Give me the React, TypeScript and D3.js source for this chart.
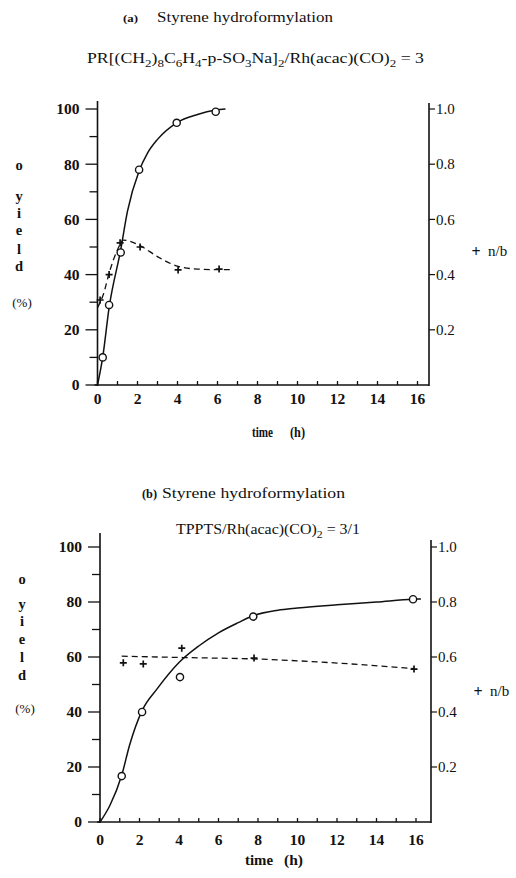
import * as d3 from 'd3';

// ---- panel (a): PR[(CH2)8C6H4-p-SO3Na]2 / Rh(acac)(CO)2 = 3
const aYieldPts = [[0.26, 10], [0.58, 29], [1.16, 48], [2.08, 78], [3.96, 95], [5.91, 99]];
const aYieldCurve = [[0, 0], [0.26, 10], [0.58, 28], [1.16, 49], [1.5, 63], [2.08, 77.5], [2.5, 84], [3, 89], [3.96, 95], [5, 98], [5.91, 99.6], [6.4, 100]];
const aRatioPts = [[0.13, 0.308], [0.58, 0.40], [1.13, 0.515], [2.13, 0.50], [4.03, 0.417], [6.08, 0.42]];
const aRatioCurve = [[0, 0.28], [0.3, 0.33], [0.6, 0.41], [1.0, 0.49], [1.3, 0.525], [2.13, 0.505], [3, 0.465], [4.03, 0.43], [5, 0.42], [6, 0.418], [6.7, 0.418]];

// ---- panel (b): TPPTS / Rh(acac)(CO)2 = 3/1
const bYieldPts = [[1.1, 16.7], [2.13, 40], [4.05, 52.7], [7.76, 74.7], [15.85, 81]];
const bYieldCurve = [[0, 0], [0.5, 6], [1.1, 17], [1.5, 28], [2.13, 40.5], [2.9, 48.5], [4, 58], [5, 64], [6, 68.8], [7, 72.5], [7.76, 75], [9, 77], [10, 77.8], [12, 79], [14, 80], [15.85, 81], [16.25, 81.1]];
const bRatioPts = [[1.18, 0.579], [2.19, 0.575], [4.14, 0.632], [7.8, 0.596], [15.9, 0.556]];
const bRatioCurve = [[1.1, 0.603], [4.2, 0.598], [7.8, 0.593], [12, 0.578], [15.9, 0.558]];

const timeTicks = [0, 2, 4, 6, 8, 10, 12, 14, 16];
const yieldTicks = [0, 20, 40, 60, 80, 100];
const ratioTicks = [0.2, 0.4, 0.6, 0.8, 1.0];
const yieldLetters = ['o', 'y', 'i', 'e', 'l', 'd'];

const FONT = '"Liberation Serif", "DejaVu Serif", serif';

type Geo = {
  x0: number; pxPerH: number; xEnd: number;
  yZero: number; yHundred: number;
  leftTop: number; rightTop: number;
  tickLabelY: number;
  letterX: number; letterY: number[]; pctY: number; nbY: number;
  timeY: number; timeX: [number, number, number, number];
};

function Panel({ geo, yieldPts, yieldCurve, ratioPts, ratioCurve }: any) {
  const g: Geo = geo;
  const xMax = (g.xEnd - g.x0) / g.pxPerH;
  const x = d3.scaleLinear().domain([0, xMax]).range([g.x0, g.xEnd]);
  const y = d3.scaleLinear().domain([0, 100]).range([g.yZero, g.yHundred]);
  const yr = d3.scaleLinear().domain([0, 1]).range([g.yZero, g.yHundred]);

  const yieldLine = d3.line<number[]>().x(d => x(d[0])).y(d => y(d[1])).curve(d3.curveMonotoneX);
  const ratioLine = d3.line<number[]>().x(d => x(d[0])).y(d => yr(d[1])).curve(d3.curveMonotoneX);

  const minorY = d3.range(0, 101, 10);
  const minorX = d3.range(0, Math.floor(xMax) + 1, 1);

  return (
    <g fontFamily={FONT} fill="#111">
      {/* axes */}
      <line x1={x(0)} x2={x(0)} y1={g.leftTop} y2={g.yZero + 1} stroke="#111" strokeWidth={1.6} />
      <line x1={g.xEnd} x2={g.xEnd} y1={g.rightTop} y2={g.yZero + 1} stroke="#111" strokeWidth={1.6} />
      <line x1={x(0) - 3} x2={g.xEnd} y1={g.yZero} y2={g.yZero} stroke="#111" strokeWidth={1.6} />

      {/* left ticks */}
      {minorY.map(v => (
        <line key={'ly' + v} x1={x(0) - (v % 20 === 0 ? 12 : 8)} x2={x(0)} y1={y(v)} y2={y(v)} stroke="#111" strokeWidth={1.3} />
      ))}
      {yieldTicks.map(v => (
        <text key={'lt' + v} x={x(0) - 18} y={y(v)} dy="0.35em" textAnchor="end" fontSize={15.5} fontWeight="bold">{v}</text>
      ))}

      {/* right ticks */}
      {ratioTicks.map(v => (
        <g key={'rt' + v}>
          <line x1={g.xEnd} x2={g.xEnd + 6} y1={yr(v)} y2={yr(v)} stroke="#111" strokeWidth={1.2} />
          <text x={g.xEnd + 7} y={yr(v)} dy="0.35em" fontSize={15}>{v.toFixed(1)}</text>
        </g>
      ))}

      {/* bottom ticks */}
      {minorX.map(v => (
        <line key={'bx' + v} x1={x(v)} x2={x(v)} y1={g.yZero} y2={g.yZero - 4} stroke="#111" strokeWidth={1.3} />
      ))}
      {timeTicks.map(v => (
        <text key={'bt' + v} x={x(v)} y={g.tickLabelY} textAnchor="middle" fontSize={15.5} fontWeight="bold">{v}</text>
      ))}

      {/* axis titles */}
      <text x={g.timeX[0]} y={g.timeY} fontSize={15} fontWeight="bold" textLength={g.timeX[1] - g.timeX[0]} lengthAdjust="spacingAndGlyphs">time</text>
      <text x={g.timeX[2]} y={g.timeY} fontSize={15} fontWeight="bold" textLength={g.timeX[3] - g.timeX[2]} lengthAdjust="spacingAndGlyphs">(h)</text>
      {yieldLetters.map((c, i) => (
        <text key={'yl' + i} x={g.letterX} y={g.letterY[i]} dy="0.35em" textAnchor="middle" fontSize={14.5} fontWeight="bold">{c}</text>
      ))}
      <text x={g.letterX + 3} y={g.pctY} dy="0.35em" textAnchor="middle" fontSize={13}>(%)</text>
      <text x={g.xEnd + 47} y={g.nbY} dy="0.35em" textAnchor="middle" fontSize={16} fontWeight="bold">+</text>
      <text x={g.xEnd + 59} y={g.nbY} dy="0.35em" fontSize={15}>n/b</text>

      {/* curves */}
      <path d={yieldLine(yieldCurve) || ''} fill="none" stroke="#111" strokeWidth={1.5} />
      <path d={ratioLine(ratioCurve) || ''} fill="none" stroke="#111" strokeWidth={1.3} strokeDasharray="6 4" />

      {/* markers */}
      {yieldPts.map((d: number[], i: number) => (
        <circle key={'c' + i} cx={x(d[0])} cy={y(d[1])} r={3.6} fill="#fff" stroke="#111" strokeWidth={1.4} />
      ))}
      {ratioPts.map((d: number[], i: number) => (
        <path key={'p' + i} d={`M${x(d[0]) - 3.5},${yr(d[1])}h7M${x(d[0])},${yr(d[1]) - 3.5}v7`} stroke="#111" strokeWidth={1.7} />
      ))}
    </g>
  );
}

const topGeo: Geo = {
  x0: 97.5, pxPerH: 20, xEnd: 429,
  yZero: 385, yHundred: 109,
  leftTop: 101, rightTop: 103,
  tickLabelY: 404,
  letterX: 19, letterY: [165, 196, 213, 230, 249, 266], pctY: 302, nbY: 251,
  timeY: 437, timeX: [252, 273, 290, 305],
};

const bottomGeo: Geo = {
  x0: 100, pxPerH: 19.75, xEnd: 431,
  yZero: 822, yHundred: 547,
  leftTop: 533, rightTop: 540,
  tickLabelY: 845,
  letterX: 22, letterY: [579, 604, 621, 639, 657, 675], pctY: 708, nbY: 691,
  timeY: 865, timeX: [245, 273, 284, 303],
};

function Sub({ children }: any) {
  return <tspan baselineShift="-4" fontSize={11}>{children}</tspan>;
}

export default function App() {
  return (
    <svg width={516} height={878} style={{ position: 'absolute', left: 0, top: 0, background: '#fff' }}>
      <rect width={516} height={878} fill="#fff" />
      <g fontFamily={FONT} fill="#111">
        <text x={123} y={22} fontSize={11} fontWeight="bold" textLength={15} lengthAdjust="spacingAndGlyphs">(a)</text>
        <text x={157} y={22} fontSize={15} textLength={176} lengthAdjust="spacingAndGlyphs">Styrene hydroformylation</text>
        <text x={87} y={63} fontSize={15} textLength={337} lengthAdjust="spacingAndGlyphs">
          PR[(CH<Sub>2</Sub><tspan>)</tspan><Sub>8</Sub><tspan>C</tspan><Sub>6</Sub><tspan>H</tspan><Sub>4</Sub><tspan>-p-SO</tspan><Sub>3</Sub><tspan>Na]</tspan><Sub>2</Sub><tspan>/Rh(acac)(CO)</tspan><Sub>2</Sub><tspan> = 3</tspan>
        </text>

        <text x={142} y={498} fontSize={12} fontWeight="bold" textLength={15} lengthAdjust="spacingAndGlyphs">(b)</text>
        <text x={162} y={498} fontSize={15} textLength={183} lengthAdjust="spacingAndGlyphs">Styrene hydroformylation</text>
        <text x={176} y={534} fontSize={15} textLength={184} lengthAdjust="spacingAndGlyphs">
          TPPTS/Rh(acac)(CO)<Sub>2</Sub><tspan> = 3/1</tspan>
        </text>
      </g>

      <Panel geo={topGeo} yieldPts={aYieldPts} yieldCurve={aYieldCurve} ratioPts={aRatioPts} ratioCurve={aRatioCurve} />
      <Panel geo={bottomGeo} yieldPts={bYieldPts} yieldCurve={bYieldCurve} ratioPts={bRatioPts} ratioCurve={bRatioCurve} />
    </svg>
  );
}
